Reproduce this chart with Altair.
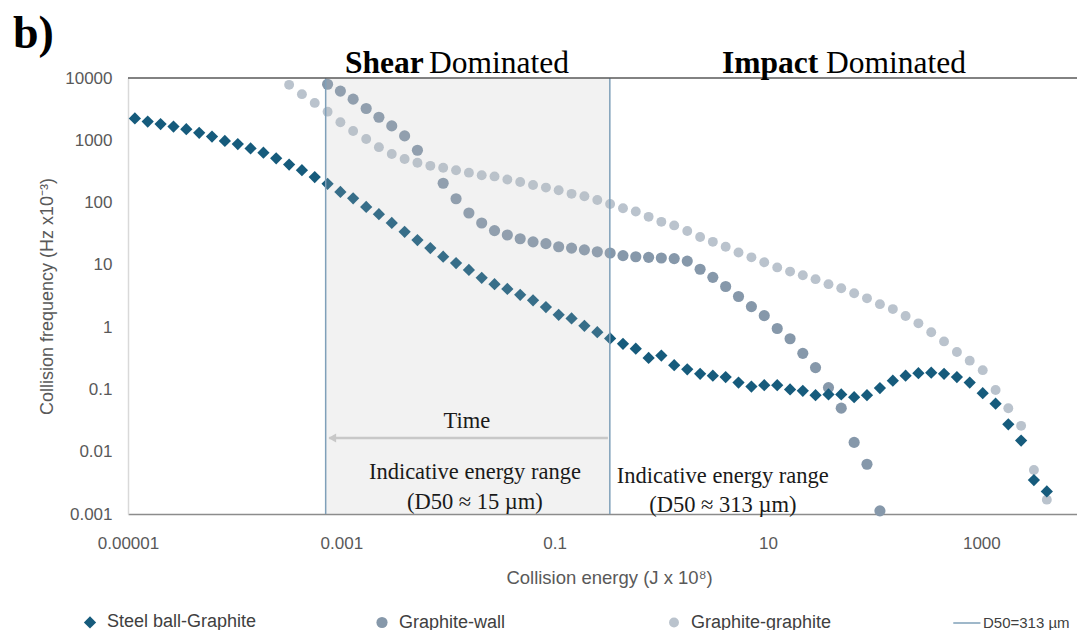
import altair as alt
import pandas as pd

# ---------------- data ----------------
ENERGY = [1.16e-5, 1.53e-5, 2.02e-5, 2.67e-5, 3.52e-5, 4.65e-5, 6.13e-5, 8.09e-5,
          1.07e-4, 1.41e-4, 1.86e-4, 2.45e-4, 3.24e-4, 4.27e-4, 5.63e-4, 7.43e-4,
          9.80e-4, 1.29e-3, 1.71e-3, 2.25e-3, 2.97e-3, 3.92e-3, 5.17e-3, 6.83e-3,
          9.01e-3, 1.19e-2, 1.57e-2, 2.07e-2, 2.73e-2, 3.60e-2, 4.75e-2, 6.27e-2,
          8.28e-2, 0.109, 0.144, 0.190, 0.251, 0.331, 0.437, 0.576,
          0.760, 1.00, 1.32, 1.75, 2.31, 3.04, 4.01, 5.29,
          6.99, 9.22, 12.2, 16.1, 21.2, 27.9, 36.9, 48.6,
          64.2, 84.7, 112, 148, 195, 257, 339, 447,
          590, 778, 1030, 1360, 1790, 2360, 3110, 4110]

STEEL = [2240, 2000, 1820, 1660, 1510, 1320, 1150, 977, 871, 741,
         631, 513, 407, 331, 257, 200, 148, 117, 85, 65,
         47, 34, 25, 18.6, 13.5, 10.7, 8.3, 6.2, 4.9, 4.1,
         3.3, 2.7, 2.1, 1.58, 1.38, 1.05, 0.83, 0.66, 0.54, 0.45,
         0.32, 0.35, 0.245, 0.21, 0.178, 0.166, 0.158, 0.129, 0.111, 0.117,
         0.117, 0.100, 0.095, 0.081, 0.083, 0.083, 0.075, 0.081, 0.105, 0.138,
         0.166, 0.182, 0.186, 0.178, 0.158, 0.129, 0.087, 0.059, 0.0275, 0.0151,
         0.0035, 0.0023]

WALL = [None] * 15 + [7940, 6170, 4570, 3240, 2340, 1700, 1175, 692, None,
                      204, 115, 68, 47, 35.5, 30.2, 26.3, 23.4, 21.9, 19.5,
                      18.6, 17.4, 16.2, 15.5, 14.1, 13.5, 13.2, 12.9, 12.6, 11.5,
                      8.5, 6.3, 4.5, 3.1, 2.14, 1.53, 0.95, 0.65, 0.38, 0.224,
                      0.107, 0.050, 0.0141, 0.0063, 0.00112] + [None] * 13

GRAPHITE = [None] * 12 + [7760, 5500, 3980, 2880, 1950, 1410, 1050, 776, 603, 501,
                          437, 389, 363, 331, 302, 275, 263, 234, 214, 191,
                          174, 158, 138, 126, 110, 95, 81, 72, 59, 49,
                          43, 35, 28, 23.4, 19.5, 15.8, 13.2, 11.0, 9.1, 7.8,
                          6.8, 5.9, 4.9, 4.2, 3.5, 2.9, 2.34, 1.95, 1.51, 1.15,
                          0.83, 0.59, 0.40, 0.29, 0.204, 0.098, 0.050, 0.026, 0.0051, 0.0017]

LINE_NAME = "D50=313 \u00b5m"
SERIES = ["Steel ball-Graphite", "Graphite-wall", "Graphite-graphite", LINE_NAME]
COLORS = ["#165b7c", "#8698aa", "#bac3cd", "#7fa0b9"]
SHAPES = ["diamond", "circle", "circle", "M-3,0L3.4,0"]
SIZES = [150, 72, 72, 100]

D50_LINES = [7.13e-4, 0.329]
X_TICKS = [1e-5, 1e-3, 0.1, 10, 1000]
Y_TICKS = [0.001, 0.01, 0.1, 1, 10, 100, 1000, 10000]

NOTE_TEXT = ["Time", "Indicative energy range", "(D50 \u2248 15 \u00b5m)",
             "Indicative energy range", "(D50 \u2248 313 \u00b5m)"]
NOTE_X = [0.01503, 0.01786, 0.01786, 3.77, 3.77]
NOTE_Y = [0.0312, 0.00473, 0.00156, 0.00401, 0.00142]

HEAD_BOLD = ["Shear", "Impact"]
HEAD_BOLD_X = [1.081e-3, 3.70]
HEAD_REG = ["Dominated", "Dominated"]
HEAD_REG_X = [6.64e-3, 34.97]

ARROW_FROM, ARROW_TO, ARROW_Y = 0.3155, 7.7e-4, 0.01663

# ---------------- build ----------------
rows = []
for name, vals in [("Graphite-graphite", GRAPHITE), ("Graphite-wall", WALL),
                   ("Steel ball-Graphite", STEEL)]:
    for e, v in zip(ENERGY, vals):
        if v is not None:
            rows.append({"series": name, "energy": e, "freq": v})
df = pd.DataFrame(rows)

x_scale = alt.Scale(type="log", domain=[1e-5, 7885])
y_scale = alt.Scale(type="log", domain=[1e-3, 1e4])

SANS = "Liberation Sans"
SERIF = "Liberation Serif"

X_AXIS = alt.Axis(
    values=X_TICKS, format=".5~f", title="Collision energy (J x 10\u2078)",
    grid=False, ticks=False, tickSize=0, labelPadding=21, labelFontSize=17,
    labelFont=SANS, labelColor="#595959", labelOverlap=False, labelFlush=False,
    titleFont=SANS, titleFontSize=18.5, titleFontWeight="normal", titleColor="#595959",
    titlePadding=17, titleX=481, titleAlign="center",
    domainColor="#8c8c8c", domainWidth=1.5)
Y_AXIS = alt.Axis(
    values=Y_TICKS, format=".3~f", title="Collision frequency (Hz x10\u207b\u00b3)",
    grid=False, ticks=False, tickSize=0, labelPadding=16, labelFontSize=17,
    labelFont=SANS, labelColor="#595959", labelOverlap=False, labelFlush=False,
    titleFont=SANS, titleFontSize=18, titleFontWeight="normal", titleColor="#595959",
    titlePadding=8, domainColor="#d9d9d9", domainWidth=1.5)

legend = alt.Legend(
    title=None, orient="none", legendX=-47, legendY=535, direction="horizontal",
    columns=4, gridAlign="all", columnPadding=109, labelFont=SANS,
    labelFontSize=alt.ExprRef(expr=f"datum.value === '{LINE_NAME}' ? 15 : 18"),
    labelColor="#404040", labelOffset=8, labelLimit=300, symbolSize=100,
    symbolStrokeColor=alt.ExprRef(expr=f"datum.value === '{LINE_NAME}' ? '#7fa0b9' : 'transparent'"),
    symbolStrokeWidth=1.5,
)


def X(field):
    return alt.X(field, scale=x_scale, axis=X_AXIS)


def Y(field):
    return alt.Y(field, scale=y_scale, axis=Y_AXIS)


points = alt.Chart(df).mark_point(filled=True, opacity=1).encode(
    x=X("energy:Q"), y=Y("freq:Q"),
    color=alt.Color("series:N", scale=alt.Scale(domain=SERIES, range=COLORS), legend=legend),
    shape=alt.Shape("series:N", scale=alt.Scale(domain=SERIES, range=SHAPES), legend=legend),
    size=alt.Size("series:N", scale=alt.Scale(domain=SERIES, range=SIZES), legend=None),
)

band = alt.Chart(pd.DataFrame({"x0": [D50_LINES[0]], "x1": [D50_LINES[1]]})).mark_rect(
    color="#bfbfbf", opacity=0.2).encode(x=X("x0:Q"), x2="x1:Q")

rules = alt.Chart(pd.DataFrame({"e": D50_LINES})).mark_rule(
    color="#7fa0b9", strokeWidth=1.5).encode(x=X("e:Q"))

top_line = alt.Chart(pd.DataFrame({"yy": [1e4]})).mark_rule(
    color="#595959", strokeWidth=1.5).encode(y=Y("yy:Q"))

arrow = alt.Chart(pd.DataFrame({"a": [ARROW_FROM], "b": [ARROW_TO], "yy": [ARROW_Y]})).mark_rule(
    color="#c8c8c8", strokeWidth=2.5).encode(x=X("a:Q"), x2="b:Q", y=Y("yy:Q"))

arrow_head = alt.Chart(pd.DataFrame({"a": [ARROW_TO], "yy": [ARROW_Y]})).mark_point(
    shape="triangle-left", filled=True, opacity=1, size=80, color="#c8c8c8", xOffset=3).encode(
    x=X("a:Q"), y=Y("yy:Q"))

notes = alt.Chart(pd.DataFrame({"t": NOTE_TEXT, "a": NOTE_X, "yy": NOTE_Y})).mark_text(
    font=SERIF, fontSize=22.5, color="#1a1a1a", align="center", baseline="middle").encode(
    x=X("a:Q"), y=Y("yy:Q"), text="t:N")

head_b = alt.Chart(pd.DataFrame({"t": HEAD_BOLD, "a": HEAD_BOLD_X, "yy": [1e4, 1e4]})).mark_text(
    font=SERIF, fontSize=31.5, fontWeight="bold", color="#000000", align="left",
    baseline="alphabetic", dy=-5).encode(x=X("a:Q"), y=Y("yy:Q"), text="t:N")

head_r = alt.Chart(pd.DataFrame({"t": HEAD_REG, "a": HEAD_REG_X, "yy": [1e4, 1e4]})).mark_text(
    font=SERIF, fontSize=31.5, color="#000000", align="left",
    baseline="alphabetic", dy=-5).encode(x=X("a:Q"), y=Y("yy:Q"), text="t:N")

panel = alt.Chart(pd.DataFrame({"t": ["b)"]})).mark_text(
    font=SERIF, fontSize=46, fontWeight="bold", color="#000000", align="left",
    baseline="alphabetic").encode(x=alt.value(-115), y=alt.value(-30), text="t:N")

chart = alt.layer(points, band, rules, top_line, arrow, arrow_head, notes, head_b, head_r, panel).properties(
    width=949, height=436,
    padding={"left": 120, "top": 70, "right": 0, "bottom": 116},
    autosize=alt.AutoSizeParams(type="none"),
    background="white",
).configure_view(stroke=None)

chart.save("out.html", embed_options={"renderer": "svg", "actions": False})
